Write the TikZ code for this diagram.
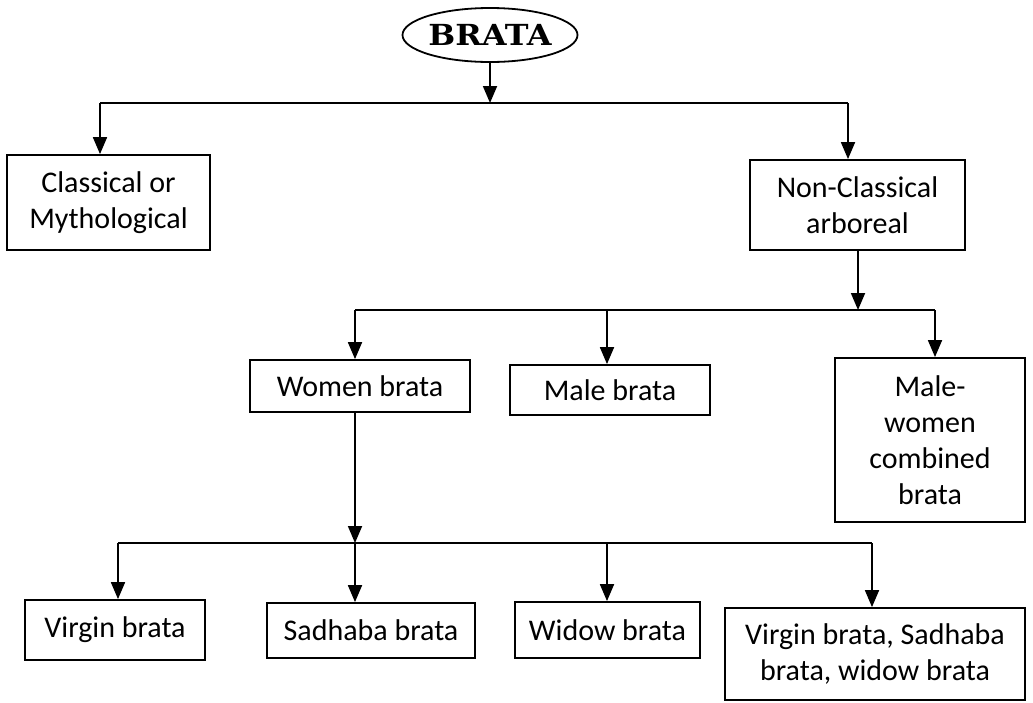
\documentclass[tikz,border=0pt]{standalone}
\usepackage{fontspec}
\setmainfont{Carlito}
\newfontfamily\titlefont[FakeStretch=1.1]{DejaVu Serif}
\usetikzlibrary{arrows.meta,shapes.geometric}
\begin{document}
\begin{tikzpicture}[x=1pt,y=-1pt,
  line width=1.8pt,
  box/.style={draw,line width=1.8pt,align=center,inner sep=0pt,font=\fontsize{30}{36}\selectfont},
  arr/.style={-{Triangle[width=14pt,length=17pt]}}]
\useasboundingbox (0,0) rectangle (1033,702);
% root
\node[draw,ellipse,line width=1.8pt,minimum width=175pt,minimum height=54pt,inner sep=0pt,font=\titlefont\bfseries\fontsize{29}{30}\selectfont] (root) at (490,35) {BRATA};
% level 1
\node[box,minimum width=203pt,minimum height=95pt] (cls) at (108.5,202.5) {Classical or\\Mythological};
\node[box,minimum width=215pt,minimum height=90pt] (non) at (857.5,205) {Non-Classical\\arboreal};
% level 2
\node[box,minimum width=220pt,minimum height=52pt] (wom) at (360,386) {Women brata};
\node[box,minimum width=200pt,minimum height=50pt] (male) at (610,390) {Male brata};
\node[box,minimum width=190pt,minimum height=164pt] (mw) at (930,440) {Male-\\women\\combined\\brata};
% level 3
\node[box,minimum width=180pt,minimum height=60pt] (vir) at (115,630) {Virgin brata};
\node[box,minimum width=208pt,minimum height=55pt] (sad) at (371,630.5) {Sadhaba brata};
\node[box,minimum width=185pt,minimum height=56pt] (wid) at (607.5,630) {Widow brata};
\node[box,minimum width=300pt,minimum height=92pt] (all) at (875,654) {Virgin brata, Sadhaba\\brata, widow brata};
% junction coordinates
\coordinate (j1) at (490,103);
\coordinate (j1l) at (100,103);
\coordinate (j1r) at (848,103);
\coordinate (j2) at (858,310);
\coordinate (j2l) at (355,310);
\coordinate (j2m) at (607,310);
\coordinate (j2r) at (935,310);
\coordinate (j3) at (355,543);
\coordinate (j3l) at (118,543);
\coordinate (j3m) at (607,543);
\coordinate (j3r) at (872,543);
% connectors
\draw[arr] (root.south) -- (j1);
\draw (j1l) -- (j1r);
\draw[arr] (j1l) -- (j1l |- cls.north);
\draw[arr] (j1r) -- (j1r |- non.north);
\draw[arr] (j2 |- non.south) -- (j2);
\draw (j2l) -- (j2r);
\draw[arr] (j2l) -- (j2l |- wom.north);
\draw[arr] (j2m) -- (j2m |- male.north);
\draw[arr] (j2r) -- (j2r |- mw.north);
\draw[arr] (j3 |- wom.south) -- (j3);
\draw (j3l) -- (j3r);
\draw[arr] (j3l) -- (j3l |- vir.north);
\draw[arr] (j3) -- (j3 |- sad.north);
\draw[arr] (j3m) -- (j3m |- wid.north);
\draw[arr] (j3r) -- (j3r |- all.north);
\end{tikzpicture}
\end{document}
